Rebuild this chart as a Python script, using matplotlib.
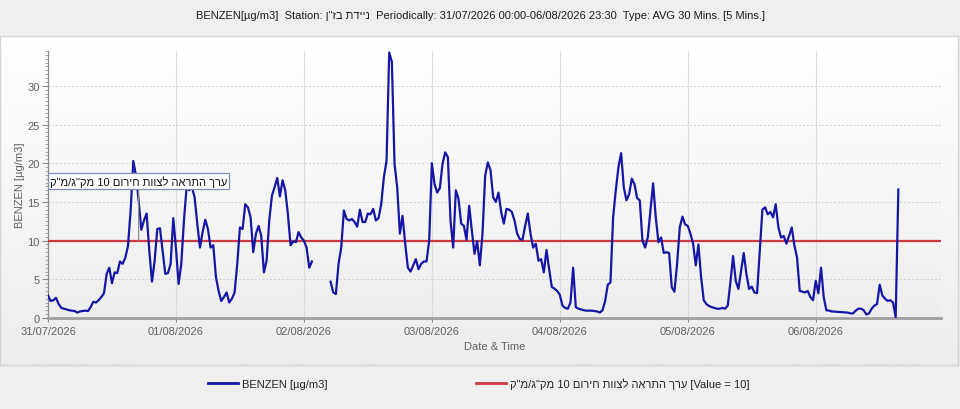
import re
import matplotlib
matplotlib.use('Agg')
import matplotlib.pyplot as plt
import matplotlib.dates as mdates
from matplotlib.lines import Line2D
from matplotlib.ticker import MultipleLocator
from matplotlib.colors import LinearSegmentedColormap
import numpy as np
import pandas as pd

plt.rcParams['font.family'] = ['Liberation Sans', 'DejaVu Sans']

# ---------------- data ----------------
STATION = 'ניידת בז"ן'
TITLE = ('BENZEN[µg/m3]  Station: ' + STATION +
         '  Periodically: 31/07/2026 00:00-06/08/2026 23:30  Type: AVG 30 Mins. [5 Mins.]')
SERIES_LABEL = 'BENZEN [µg/m3]'
LIMIT_NAME = 'ערך התראה לצוות חירום 10 מק"ג/מ"ק'
LIMIT_VALUE = 10
START = '2026-07-31 00:00'
PERIOD_END = '2026-08-06 23:30'
STEP = '30min'
DAY_TICKS = ['2026-07-31', '2026-08-01', '2026-08-02', '2026-08-03',
             '2026-08-04', '2026-08-05', '2026-08-06']
Y_TICKS = [0, 5, 10, 15, 20, 25, 30]
ANNOT_TIME = '2026-07-31 17:00'

day_0731 = [2.9, 2.2, 2.3, 2.6, 1.8, 1.3, 1.2, 1.1, 1.0, 0.95, 0.9, 0.7,
            0.85, 0.9, 0.95, 0.9, 1.4, 2.1, 2.0, 2.3, 2.7, 3.2, 5.7, 6.5,
            4.5, 5.9, 5.8, 7.3, 7.0, 7.8, 9.3, 13.9, 20.3, 18.4, 15.2, 11.4,
            12.6, 13.5, 8.7, 4.7, 7.4, 11.5, 11.6, 8.7, 5.7, 5.8, 7.0, 12.9]
day_0801 = [9.0, 4.4, 7.0, 12.6, 16.9, 16.5, 16.9, 15.6, 12.2, 9.1, 11.1, 12.7,
            11.5, 9.1, 9.4, 5.3, 3.5, 2.2, 2.7, 3.3, 2.0, 2.5, 3.3, 7.0,
            11.7, 11.5, 14.7, 14.3, 13.0, 8.5, 10.9, 11.9, 10.6, 5.9, 7.4, 12.6,
            15.8, 16.9, 18.1, 15.7, 17.8, 16.5, 13.4, 9.4, 9.9, 9.8, 11.1, 10.4]
day_0802 = [10.0, 9.1, 6.5, 7.3, None, None, None, None, None, None, 4.7, 3.3,
            3.1, 7.0, 9.1, 13.9, 12.8, 12.6, 12.8, 12.4, 11.8, 14.0, 12.4, 12.4,
            13.5, 13.4, 14.1, 12.6, 12.9, 14.7, 18.2, 20.3, 34.3, 33.1, 19.9, 16.9,
            10.9, 13.2, 9.6, 6.5, 6.0, 6.8, 7.6, 6.3, 7.0, 7.3, 7.3, 10.0]
day_0803 = [20.0, 17.3, 16.2, 16.8, 19.9, 21.4, 20.8, 12.6, 9.1, 16.5, 15.4, 12.2,
            11.9, 10.1, 14.5, 11.3, 8.3, 9.9, 6.8, 10.9, 18.4, 20.1, 19.1, 15.6,
            15.0, 16.2, 13.7, 12.2, 14.1, 14.0, 13.7, 12.6, 10.9, 10.2, 10.1, 11.9,
            13.5, 10.9, 9.1, 9.6, 7.4, 7.6, 5.9, 8.8, 6.3, 4.0, 3.8, 3.5]
day_0804 = [3.0, 1.6, 1.3, 1.2, 2.0, 6.5, 1.4, 1.2, 1.1, 1.0, 0.95, 0.95,
            0.95, 0.9, 0.85, 0.7, 1.0, 2.2, 4.3, 4.6, 13.0, 16.5, 19.5, 21.3,
            16.9, 15.2, 16.0, 18.0, 17.3, 15.5, 15.2, 10.0, 9.1, 10.4, 13.9, 17.4,
            13.0, 9.8, 10.4, 8.4, 8.5, 8.4, 4.0, 3.4, 7.0, 11.7, 13.1, 12.1]
day_0805 = [11.9, 10.9, 9.6, 6.8, 9.5, 5.3, 2.3, 1.8, 1.55, 1.4, 1.3, 1.2,
            1.2, 1.3, 1.2, 1.6, 4.6, 8.0, 4.8, 3.75, 6.1, 8.4, 5.7, 3.75,
            4.05, 3.3, 3.2, 8.7, 14.0, 14.3, 13.4, 13.7, 13.0, 14.7, 11.7, 10.4,
            10.6, 9.6, 10.6, 11.7, 9.4, 7.8, 3.5, 3.4, 3.3, 3.5, 2.7, 2.3]
day_0806 = [4.8, 3.2, 6.5, 2.7, 1.0, 0.95, 0.85, 0.82, 0.8, 0.78, 0.75, 0.72,
            0.7, 0.6, 0.6, 0.95, 1.2, 1.2, 1.0, 0.45, 0.6, 1.2, 1.6, 1.8,
            4.3, 2.9, 2.5, 2.2, 2.3, 2.0, 0.1, 16.6]

benzen = day_0731 + day_0801 + day_0802 + day_0803 + day_0804 + day_0805 + day_0806


# ---------------- right-to-left display helper ----------------
_HEB_RUN = re.compile(r'[\u0590-\u05FF][\u0590-\u05FF0-9 "\'/.,\-]*[\u0590-\u05FF]')


def visual(s):
    """Reorder Hebrew runs for left-to-right glyph drawing (digits stay LTR)."""
    def fix(m):
        r = m.group(0)[::-1]
        return re.sub(r'[0-9]+', lambda d: d.group(0)[::-1], r)
    return _HEB_RUN.sub(fix, s)


# ---------------- styles ----------------
BLUE = '#1616a6'
RED = '#cc3a3f'
GRAY_TXT = '#606060'

W, H = 960, 410
fig = plt.figure(figsize=(W / 100, H / 100), dpi=100)
fig.patch.set_facecolor('#efefef')

# panel with vertical gradient
px0, py0, px1, py1 = 0, 37, 958, 366
panel = fig.add_axes([px0 / W, 1 - py1 / H, (px1 - px0) / W, (py1 - py0) / H])
grad = np.linspace(1.0, 0.0, 256).reshape(-1, 1)
cm_panel = LinearSegmentedColormap.from_list('p', ['#ededed', '#ffffff'])
panel.imshow(grad, aspect='auto', cmap=cm_panel, extent=[0, 1, 0, 1], vmin=0, vmax=1)
panel.set_xticks([]); panel.set_yticks([])
for s in panel.spines.values():
    s.set_color('#d4d4d4')
    s.set_linewidth(1.0)
panel.set_zorder(0)

# plot axes
ax0, ay0, ax1, ay1 = 48, 52, 941, 319
ax = fig.add_axes([ax0 / W, 1 - ay1 / H, (ax1 - ax0) / W, (ay1 - ay0) / H])
ax.set_zorder(1)

times = pd.date_range(START, periods=len(benzen), freq=STEP)
vals = np.array([np.nan if v is None else v for v in benzen], dtype=float)

xmin = pd.Timestamp(START)
xmax = pd.Timestamp(PERIOD_END)
ymax = 34.5

cm_plot = LinearSegmentedColormap.from_list('q', ['#eeeeee', '#ffffff'])
ax.imshow(grad, aspect='auto', cmap=cm_plot, vmin=0, vmax=1, zorder=0,
          extent=[mdates.date2num(xmin), mdates.date2num(xmax), 0, ymax])

ax.plot(times, vals, color=BLUE, lw=1.6, zorder=4, solid_joinstyle='round')
ax.axhline(LIMIT_VALUE, color=RED, lw=1.6, zorder=3)

ax.set_xlim(xmin, xmax)
ax.set_ylim(0, ymax)

ax.set_xticks(pd.to_datetime(DAY_TICKS))
ax.xaxis.set_major_formatter(mdates.DateFormatter('%d/%m/%Y'))
ax.set_yticks(Y_TICKS)
ax.yaxis.set_minor_locator(MultipleLocator(0.5))

ax.tick_params(axis='both', which='major', labelsize=8, labelcolor=GRAY_TXT, color='#8a8a8a')
ax.tick_params(axis='y', which='major', length=4, width=0.8, pad=2)
ax.tick_params(axis='y', which='minor', length=2, width=0.6, color='#9a9a9a')
ax.tick_params(axis='x', which='major', length=3, width=0.8, pad=3)

ax.grid(axis='x', color='#dcdcdc', lw=0.8, ls='-', zorder=1)
ax.yaxis.grid(True, color='#cfcfcf', lw=0.7, ls=(0, (2, 2)), zorder=1)
for gl, t in zip(ax.get_ygridlines(), Y_TICKS):
    if t == 0:
        gl.set_visible(False)

for side in ['top', 'right']:
    ax.spines[side].set_visible(False)
ax.spines['left'].set_color('#8a8a8a')
ax.spines['left'].set_linewidth(0.9)
ax.spines['bottom'].set_color('#a0a0a0')
ax.spines['bottom'].set_linewidth(2.0)

ax.set_ylabel(SERIES_LABEL, fontsize=8, color=GRAY_TXT, labelpad=2)
ax.set_xlabel('Date & Time', fontsize=8, color=GRAY_TXT, labelpad=3)

# annotation of limit line
ax.annotate(visual(LIMIT_NAME), xy=(pd.Timestamp(ANNOT_TIME), LIMIT_VALUE),
            xytext=(pd.Timestamp(ANNOT_TIME), 17.7), ha='center', va='center',
            fontsize=8, color='#111111', zorder=6,
            bbox=dict(boxstyle='square,pad=0.2', fc='white', ec='#7d8db5', lw=0.9),
            arrowprops=dict(arrowstyle='-', color='#8c8c8c', lw=0.9,
                            relpos=(0.5, 0.0), shrinkA=0, shrinkB=0))

# title
fig.text(0.5, 1 - 16 / H, visual(TITLE), ha='center', va='center', fontsize=8, color='#1a1a1a')

# legend
handles = [Line2D([], [], color=BLUE, lw=2.0), Line2D([], [], color=RED, lw=2.0)]
labels = [SERIES_LABEL, visual(LIMIT_NAME + ' [Value = ' + str(LIMIT_VALUE) + ']')]
fig.legend(handles, labels, loc='center', bbox_to_anchor=(479 / W, 1 - 384 / H),
           ncol=2, frameon=False, fontsize=8, handlelength=2.7, handletextpad=0.35,
           columnspacing=13.4, labelcolor='#222222')

fig.savefig('out.png', dpi=100, facecolor=fig.get_facecolor())
